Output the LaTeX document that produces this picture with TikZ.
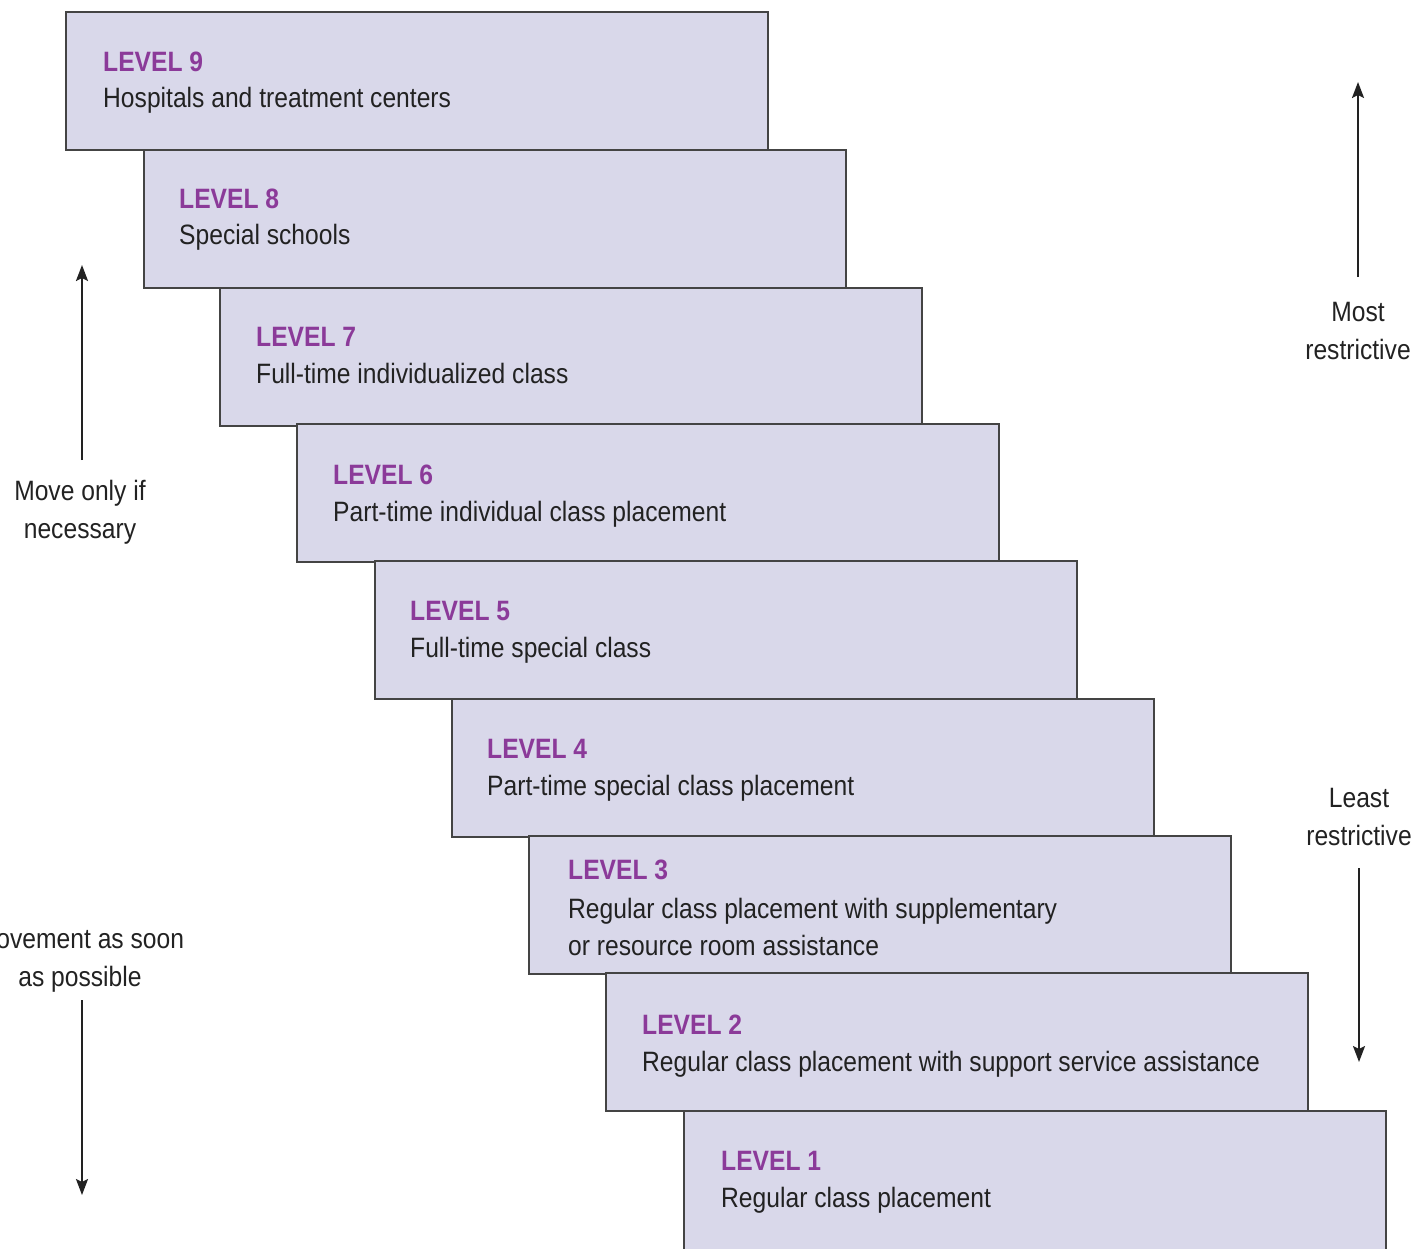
\documentclass[tikz,border=0pt]{standalone}
\usepackage{fontspec}
\setmainfont[FakeStretch=0.88]{Liberation Sans}
\usetikzlibrary{arrows.meta}
\definecolor{boxfill}{HTML}{D9D8EA}
\definecolor{boxline}{HTML}{444444}
\definecolor{lvlpurple}{HTML}{8B3A99}
\definecolor{txtgray}{HTML}{222222}
\tikzset{
  stepbox/.style={draw=boxline, fill=boxfill, line width=2pt, rectangle, inner sep=0pt,
    minimum width=702pt, minimum height=138pt, anchor=north west},
  lvl/.style={anchor=base west, inner sep=0pt, text=lvlpurple, font=\fontsize{28}{34}\selectfont\bfseries},
  desc/.style={anchor=base west, inner sep=0pt, text=txtgray, font=\fontsize{28}{34}\selectfont},
  side/.style={anchor=base, inner sep=0pt, text=txtgray, font=\fontsize{28}{34}\selectfont},
  arr/.style={draw=txtgray, line width=2.2pt, -{Stealth[length=16pt,width=12pt,inset=3pt]}},
}
\begin{document}
\begin{tikzpicture}[x=1pt,y=-1pt]
\useasboundingbox (0,0) rectangle (1416,1248);
% boxes
\node[stepbox] (b9) at (65,11) {};
\node[lvl] (l9) at (103,71) {LEVEL 9};
\node[desc] (d9) at (103,107) {Hospitals and treatment centers};
\node[stepbox] (b8) at (143,149) {};
\node[lvl] (l8) at (179,208) {LEVEL 8};
\node[desc] (d8) at (179,244) {Special schools};
\node[stepbox] (b7) at (219,287) {};
\node[lvl] (l7) at (256,346) {LEVEL 7};
\node[desc] (d7) at (256,383) {Full-time individualized class};
\node[stepbox] (b6) at (296,423) {};
\node[lvl] (l6) at (333,484) {LEVEL 6};
\node[desc] (d6) at (333,521) {Part-time individual class placement};
\node[stepbox] (b5) at (374,560) {};
\node[lvl] (l5) at (410,620) {LEVEL 5};
\node[desc] (d5) at (410,657) {Full-time special class};
\node[stepbox] (b4) at (451,698) {};
\node[lvl] (l4) at (487,758) {LEVEL 4};
\node[desc] (d4) at (487,795) {Part-time special class placement};
\node[stepbox] (b3) at (528,835) {};
\node[lvl] (l3) at (568,879) {LEVEL 3};
\node[desc] (d3a) at (568,918) {Regular class placement with supplementary};
\node[desc] (d3b) at (568,955) {or resource room assistance};
\node[stepbox] (b2) at (605,972) {};
\node[lvl] (l2) at (642,1034) {LEVEL 2};
\node[desc] (d2) at (642,1071) {Regular class placement with support service assistance};
\node[stepbox, minimum height=160pt] (b1) at (683,1110) {};
\node[lvl] (l1) at (721,1170) {LEVEL 1};
\node[desc] (d1) at (721,1207) {Regular class placement};
% left side
\node[side] (mv1) at (80,500) {Move only if};
\node[side] (mv2) at (80,538) {necessary};
\coordinate (upL1) at (82,460);
\coordinate (upL2) at (82,265);
\draw[arr] (upL1) -- (upL2);
\node[side] (ms1) at (80,948) {Movement as soon};
\node[side] (ms2) at (80,986) {as possible};
\coordinate (dnL1) at (82,1000);
\coordinate (dnL2) at (82,1195);
\draw[arr] (dnL1) -- (dnL2);
% right side
\node[side] (mr1) at (1358,321) {Most};
\node[side] (mr2) at (1358,359) {restrictive};
\coordinate (upR1) at (1358,277);
\coordinate (upR2) at (1358,82);
\draw[arr] (upR1) -- (upR2);
\node[side] (lr1) at (1359,807) {Least};
\node[side] (lr2) at (1359,845) {restrictive};
\coordinate (dnR1) at (1359,868);
\coordinate (dnR2) at (1359,1062);
\draw[arr] (dnR1) -- (dnR2);
\end{tikzpicture}
\end{document}
